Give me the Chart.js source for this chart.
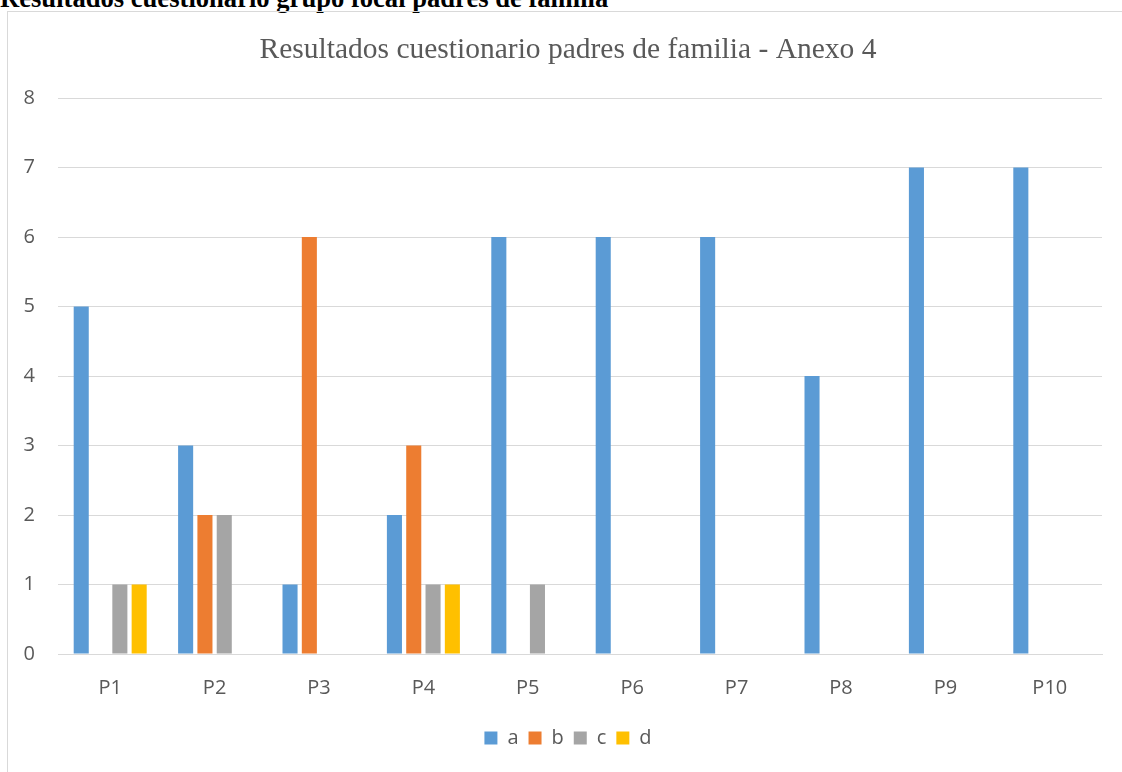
<!DOCTYPE html>
<html>
<head>
<meta charset="utf-8">
<script src="https://cdn.jsdelivr.net/npm/chart.js@4.4.0/dist/chart.umd.min.js"></script>
<style>
  html, body { margin: 0; padding: 0; width: 1122px; height: 772px; overflow: hidden; background: #fff; }
  #header { position: absolute; left: 0; top: -15px; font-family: "Liberation Serif", "Times New Roman", serif; font-weight: bold; font-size: 26.6px; line-height: 26px; color: #000; white-space: nowrap; }
  #frame { position: absolute; left: 7px; top: 11px; width: 1130px; height: 800px; border-left: 1px solid #d9d9d9; border-top: 1px solid #d9d9d9; }
  #wrap { position: absolute; left: 8px; top: 12px; width: 1120px; height: 760px; }
</style>
</head>
<body>
<div id="header">Resultados cuestionario grupo focal padres de familia</div>
<div id="frame"></div>
<div id="wrap"><canvas id="c" width="1120" height="760" style="width:1120px;height:760px"></canvas></div>
<script>
const categories = ["P1", "P2", "P3", "P4", "P5", "P6", "P7", "P8", "P9", "P10"];
const seriesA = [5, 3, 1, 2, 6, 6, 6, 4, 7, 7];
const seriesB = [0, 2, 6, 3, 0, 0, 0, 0, 0, 0];
const seriesC = [1, 2, 0, 1, 1, 0, 0, 0, 0, 0];
const seriesD = [1, 0, 0, 1, 0, 0, 0, 0, 0, 0];
const seriesNames = ["a", "b", "c", "d"];
const yTicks = [0, 1, 2, 3, 4, 5, 6, 7, 8];

const colors = ["#5B9BD5", "#ED7D31", "#A5A5A5", "#FFC000"];
const txt = "#595959";
const sans = "'Open Sans', 'Noto Sans', sans-serif";

const data = {
  labels: categories,
  datasets: [seriesA, seriesB, seriesC, seriesD].map((v, i) => ({
    label: seriesNames[i],
    data: v,
    backgroundColor: colors[i],
    borderWidth: 0,
    yAxisID: "y",
    categoryPercentage: 0.74,
    barPercentage: 0.78
  }))
};

new Chart(document.getElementById("c"), {
  type: "bar",
  data,
  options: {
    responsive: false,
    animation: false,
    layout: { padding: { left: 0, right: 0, top: 0, bottom: 14 } },
    plugins: {
      title: {
        display: true,
        text: "Resultados cuestionario padres de familia - Anexo 4",
        color: txt,
        font: { family: "'Liberation Serif', 'Times New Roman', serif", size: 29.5, weight: "normal", lineHeight: 1.2 },
        padding: { top: 21, bottom: 29.6 }
      },
      legend: {
        position: "bottom",
        labels: {
          color: txt,
          font: { family: sans, size: 20 },
          boxWidth: 13,
          boxHeight: 13,
          padding: 10
        }
      },
      tooltip: { enabled: false }
    },
    scales: {
      x: {
        grid: { display: false, drawTicks: false },
        border: { display: true, color: "#d9d9d9", width: 1 },
        ticks: { color: txt, font: { family: sans, size: 20 }, padding: 22, maxRotation: 0 },
        afterFit: (s) => { s.height = 64; }
      },
      y: {
        min: 0,
        max: 8,
        afterBuildTicks: (s) => { s.ticks = yTicks.map(v => ({ value: v })); },
        grid: { color: "#d9d9d9", lineWidth: 1, drawTicks: false },
        border: { display: false },
        ticks: { color: txt, font: { family: sans, size: 20 }, padding: 23, stepSize: 1 },
        afterFit: (s) => { s.width = 50; }
      },
      yRight: {
        type: "linear",
        position: "right",
        min: 0,
        max: 8,
        grid: { display: false, drawTicks: false },
        border: { display: false },
        ticks: { display: false },
        afterFit: (s) => { s.width = 26; }
      }
    }
  }
});
</script>
</body>
</html>
